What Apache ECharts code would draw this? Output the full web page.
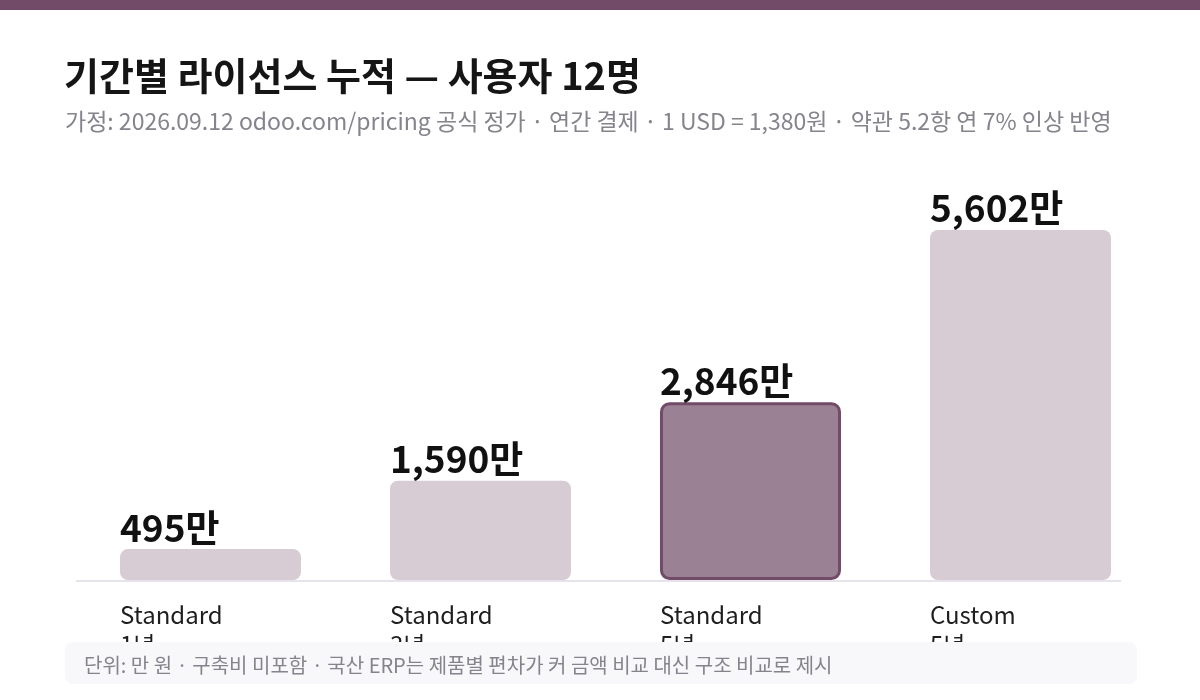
<!DOCTYPE html>
<html>
<head>
<meta charset="utf-8">
<script src="https://cdn.jsdelivr.net/npm/echarts@6/dist/echarts.min.js"></script>
<style>
html,body{margin:0;padding:0;background:#fff;}
#chart{width:1200px;height:700px;}
</style>
</head>
<body>
<div id="chart"></div>
<script>
var categories = ['Standard\n1년', 'Standard\n3년', 'Standard\n5년', 'Custom\n5년'];
var values = [495, 1590, 2846, 5602];
var highlightIndex = 2;
var titleText = '기간별 라이선스 누적 — 사용자 12명';
var subtitleText = '가정: 2026.09.12 odoo.com/pricing 공식 정가 · 연간 결제 · 1 USD = 1,380원 · 약관 5.2항 연 7% 인상 반영';
var footerText = '단위: 만 원 · 구축비 미포함 · 국산 ERP는 제품별 편차가 커 금액 비교 대신 구조 비교로 제시';

var FONT = '"Noto Sans CJK KR", "Noto Sans", sans-serif';
var chart = echarts.init(document.getElementById('chart'));

var barData = values.map(function (v, i) {
  if (i === highlightIndex) {
    return { value: v, itemStyle: { color: '#9b8194', borderColor: '#714B67', borderWidth: 3 } };
  }
  return { value: v };
});

chart.setOption({
  animation: false,
  backgroundColor: '#fff',
  title: [
    { text: titleText, left: 64, top: 57, padding: 0,
      textStyle: { fontFamily: FONT, fontSize: 38, fontWeight: 'bold', color: '#151515' } },
    { text: subtitleText, left: 65, top: 110, padding: 0,
      textStyle: { fontFamily: FONT, fontSize: 23, fontWeight: 'normal', color: '#85838c' } }
  ],
  grid: { left: 75.5, right: 44.5, top: 205, bottom: 120, containLabel: false },
  xAxis: {
    type: 'category', data: categories,
    axisLine: { show: false }, axisTick: { show: false }, axisLabel: { show: false }
  },
  yAxis: { type: 'value', min: 0, max: 6000, show: false, splitLine: { show: false } },
  series: [
    {
      type: 'bar', data: barData, barWidth: 181, silent: true,
      itemStyle: { color: '#d7cbd4', borderRadius: 8 },
      label: {
        show: true, position: [0, -3], align: 'left', verticalAlign: 'bottom',
        fontFamily: FONT, fontSize: 37, fontWeight: 'bold', color: '#111',
        formatter: function (p) { return p.value.toLocaleString('en-US') + '만'; }
      }
    },
    {
      type: 'bar', data: values.map(function () { return 0; }), barWidth: 181, barGap: '-100%', silent: true,
      itemStyle: { color: 'transparent' },
      label: {
        show: true, position: [0, 20], align: 'left', verticalAlign: 'top',
        fontFamily: FONT, fontSize: 24, lineHeight: 30, color: '#1e1e1e',
        formatter: function (p) { return categories[p.dataIndex]; }
      }
    }
  ]
});

var baseY = chart.convertToPixel({ yAxisIndex: 0 }, 0);
chart.setOption({
  graphic: [
    { type: 'rect', left: 0, top: 0, shape: { width: 1200, height: 10 }, style: { fill: '#714B67' }, z: 100 },
    { type: 'line', shape: { x1: 76, y1: baseY + 1, x2: 1121, y2: baseY + 1 }, style: { stroke: '#e6e3ec', lineWidth: 2 }, z: 1 },
    { type: 'rect', shape: { x: 65, y: 642, width: 1072, height: 42, r: 8 }, style: { fill: '#f8f8fb' }, z: 100 },
    { type: 'text', x: 84, y: 665, style: { text: footerText, fontFamily: FONT, fontSize: 20, fill: '#85838c', verticalAlign: 'middle' }, z: 101 }
  ]
});
</script>
</body>
</html>
